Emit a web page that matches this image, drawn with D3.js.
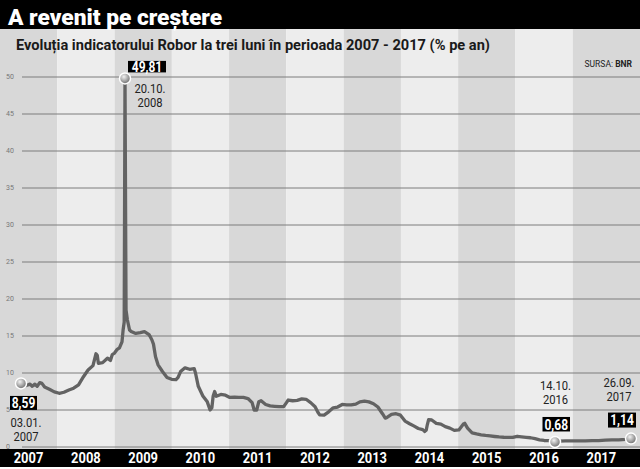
<!DOCTYPE html>
<html>
<head>
<meta charset="utf-8">
<script src="https://cdn.jsdelivr.net/npm/d3@7"></script>
<style>
  body { margin: 0; background: #fff; }
  svg { display: block; font-family: Roboto, "Open Sans", "DejaVu Sans", sans-serif; }
</style>
</head>
<body>
<div id="chart"></div>
<script>
const width = 640;
const height = 469;

const years = [2007, 2008, 2009, 2010, 2011, 2012, 2013, 2014, 2015, 2016, 2017];
const yTicks = [0, 5, 10, 15, 20, 25, 30, 35, 40, 45, 50];

const robor = [
  ["2007-01-03", 8.59], ["2007-02-01", 8.3], ["2007-03-01", 8.5], ["2007-03-15", 8.2],
  ["2007-04-01", 8.5], ["2007-04-15", 8.2], ["2007-05-01", 8.7], ["2007-05-15", 8.6],
  ["2007-06-01", 8.1], ["2007-07-01", 7.8], ["2007-08-01", 7.45], ["2007-09-01", 7.26],
  ["2007-10-01", 7.4], ["2007-11-01", 7.7], ["2007-12-01", 7.95],
  ["2008-01-01", 8.4], ["2008-02-01", 9.5], ["2008-03-01", 10.4], ["2008-04-01", 11.0],
  ["2008-04-20", 12.6], ["2008-04-28", 12.4], ["2008-05-05", 11.3], ["2008-06-01", 11.4],
  ["2008-07-01", 12.0], ["2008-07-20", 11.7], ["2008-08-01", 12.5], ["2008-08-15", 12.7],
  ["2008-09-01", 13.2], ["2008-09-15", 13.4], ["2008-10-01", 14.2], ["2008-10-08", 15.8],
  ["2008-10-15", 16.9], ["2008-10-20", 49.81], ["2008-10-27", 18.5], ["2008-11-05", 17.2],
  ["2008-11-20", 15.8], ["2008-12-01", 15.6],
  ["2009-01-01", 15.35], ["2009-02-01", 15.45], ["2009-03-01", 15.6], ["2009-04-01", 15.2],
  ["2009-04-20", 14.5], ["2009-05-01", 13.9], ["2009-05-15", 12.2], ["2009-06-01", 11.1],
  ["2009-07-01", 10.2], ["2009-08-01", 9.4], ["2009-09-01", 9.15], ["2009-10-01", 9.1],
  ["2009-10-15", 9.4], ["2009-11-01", 10.2], ["2009-12-01", 10.7],
  ["2010-01-01", 10.5], ["2010-02-01", 10.6], ["2010-02-10", 10.0], ["2010-03-01", 8.2],
  ["2010-04-01", 6.9], ["2010-05-01", 6.1], ["2010-05-20", 5.0], ["2010-06-01", 5.3],
  ["2010-06-10", 6.9], ["2010-06-20", 7.5], ["2010-07-01", 6.85], ["2010-08-01", 7.1],
  ["2010-09-01", 7.0], ["2010-10-01", 6.7], ["2010-11-01", 6.75], ["2010-12-01", 6.7],
  ["2011-01-01", 6.7], ["2011-02-01", 6.55], ["2011-03-01", 6.0], ["2011-03-15", 5.0],
  ["2011-04-01", 5.0], ["2011-04-15", 6.1], ["2011-05-01", 6.25], ["2011-06-01", 5.75],
  ["2011-07-01", 5.55], ["2011-08-01", 5.5], ["2011-09-01", 5.45], ["2011-10-01", 5.45],
  ["2011-10-20", 6.0], ["2011-11-01", 6.35], ["2011-12-01", 6.25],
  ["2012-01-01", 6.3], ["2012-02-01", 6.5], ["2012-03-01", 6.45], ["2012-04-01", 6.0],
  ["2012-05-01", 5.45], ["2012-05-20", 4.7], ["2012-06-01", 4.35], ["2012-07-01", 4.3],
  ["2012-08-01", 4.75], ["2012-09-01", 5.3], ["2012-10-01", 5.4], ["2012-11-01", 5.75],
  ["2012-12-01", 5.7],
  ["2013-01-01", 5.68], ["2013-02-01", 5.8], ["2013-03-01", 6.1], ["2013-04-01", 6.2],
  ["2013-05-01", 6.1], ["2013-06-01", 5.85], ["2013-07-01", 5.4], ["2013-08-01", 4.5],
  ["2013-08-20", 3.9], ["2013-09-01", 4.0], ["2013-10-01", 4.4], ["2013-11-01", 4.5],
  ["2013-12-01", 4.3],
  ["2014-01-01", 3.5], ["2014-02-01", 3.15], ["2014-03-01", 2.85], ["2014-04-01", 2.5],
  ["2014-05-01", 2.35], ["2014-05-15", 2.1], ["2014-05-25", 2.3], ["2014-06-01", 3.0],
  ["2014-06-10", 3.7], ["2014-07-01", 3.65], ["2014-08-01", 3.2], ["2014-09-01", 3.1],
  ["2014-10-01", 2.75], ["2014-11-01", 2.55], ["2014-12-01", 2.25],
  ["2015-01-01", 2.3], ["2015-02-01", 3.1], ["2015-02-10", 3.2], ["2015-03-01", 2.55],
  ["2015-04-01", 1.9], ["2015-05-01", 1.76], ["2015-06-01", 1.65], ["2015-07-01", 1.56],
  ["2015-08-01", 1.49], ["2015-09-01", 1.42], ["2015-10-01", 1.36], ["2015-11-01", 1.32],
  ["2015-12-01", 1.31],
  ["2016-01-01", 1.31], ["2016-02-01", 1.45], ["2016-03-01", 1.38], ["2016-04-01", 1.31],
  ["2016-05-01", 1.25], ["2016-06-01", 1.12], ["2016-07-01", 0.97], ["2016-08-01", 0.88],
  ["2016-09-01", 0.85], ["2016-10-01", 0.8], ["2016-10-14", 0.68], ["2016-11-01", 0.8],
  ["2016-12-01", 0.82],
  ["2017-01-01", 0.82], ["2017-02-01", 0.82], ["2017-03-01", 0.84], ["2017-04-01", 0.85],
  ["2017-05-01", 0.86], ["2017-06-01", 0.92], ["2017-07-01", 0.95], ["2017-08-01", 0.96],
  ["2017-09-01", 1.03], ["2017-09-26", 1.14]
];

const callouts = [
  { date: "2007-01-03", value: 8.59, text: "8,59", day: "03.01.", year: "2007" },
  { date: "2008-10-20", value: 49.81, text: "49,81", day: "20.10.", year: "2008" },
  { date: "2016-10-14", value: 0.68, text: "0,68", day: "14.10.", year: "2016" },
  { date: "2017-09-26", value: 1.14, text: "1,14", day: "26.09.", year: "2017" }
];

const parse = d3.timeParse("%Y-%m-%d");
const series = robor.map(([d, v]) => ({ date: parse(d), value: v }));

const svg = d3.select("#chart")
  .append("svg")
  .attr("width", width)
  .attr("height", height)
  .attr("viewBox", [0, 0, width, height]);

// squeeze text horizontally to mimic the condensed newspaper face
function squeeze(sel, k) {
  sel.each(function () {
    const w = this.getComputedTextLength();
    d3.select(this).attr("textLength", w * k).attr("lengthAdjust", "spacingAndGlyphs");
  });
}

const plotTop = 29;
const barTop = 449;

// year bands and labels
const xYear = d3.scaleTime()
  .domain([new Date(2007, 0, 1), new Date(2018, 0, 1)])
  .range([0, 630]);

// the line is pinned to the dated callouts
const x = d3.scaleTime()
  .domain(callouts.map(c => parse(c.date)))
  .range([21, 125, 555, 631]);

const y = d3.scaleLinear().domain([0, 50]).range([447, 77]);

svg.append("g")
  .selectAll("rect")
  .data(years)
  .join("rect")
  .attr("x", d => xYear(new Date(d, 0, 1)))
  .attr("y", plotTop)
  .attr("width", (d, i) => (i === years.length - 1 ? width : xYear(new Date(d + 1, 0, 1))) - xYear(new Date(d, 0, 1)))
  .attr("height", barTop - plotTop)
  .attr("fill", (d, i) => i % 2 === 0 ? "#d8d8d8" : "#ededed");

// grid
svg.append("g")
  .selectAll("line")
  .data(yTicks)
  .join("line")
  .attr("x1", 22)
  .attr("x2", width)
  .attr("y1", d => y(d))
  .attr("y2", d => y(d))
  .attr("stroke", "#7d7d7d")
  .attr("stroke-width", 1);

svg.append("g")
  .selectAll("text")
  .data(yTicks)
  .join("text")
  .attr("x", 6)
  .attr("y", d => y(d))
  .attr("dy", "0.35em")
  .attr("font-size", 7)
  .attr("fill", "#777")
  .text(d => d);

// header
svg.append("rect").attr("x", 0).attr("y", 0).attr("width", width).attr("height", plotTop).attr("fill", "#000");
svg.append("text")
  .attr("x", 8).attr("y", 25)
  .attr("font-size", 22).attr("font-weight", 900)
  .attr("fill", "#fff")
  .attr("textLength", 214).attr("lengthAdjust", "spacingAndGlyphs")
  .text("A revenit pe creștere");

svg.append("text")
  .attr("x", 16).attr("y", 50)
  .attr("font-size", 14.5).attr("font-weight", 700)
  .attr("fill", "#1a1a1a")
  .attr("textLength", 474).attr("lengthAdjust", "spacingAndGlyphs")
  .text("Evoluția indicatorului Robor la trei luni în perioada 2007 - 2017 (% pe an)");

const src = svg.append("text")
  .attr("x", 632).attr("y", 67)
  .attr("text-anchor", "end")
  .attr("font-size", 8.5)
  .attr("fill", "#222");
src.append("tspan").text("SURSA: ");
src.append("tspan").attr("font-weight", 700).text("BNR");

// series
const line = d3.line()
  .x(d => x(d.date))
  .y(d => y(d.value));

svg.append("path")
  .datum(series)
  .attr("d", line)
  .attr("fill", "none")
  .attr("stroke", "#636363")
  .attr("stroke-width", 3.3)
  .attr("stroke-linejoin", "round");

// dots
const grad = svg.append("defs").append("radialGradient")
  .attr("id", "dot").attr("cx", "40%").attr("cy", "35%").attr("r", "65%");
grad.append("stop").attr("offset", "0%").attr("stop-color", "#f2f2f2");
grad.append("stop").attr("offset", "100%").attr("stop-color", "#6e6e6e");

// box [dx, dy, w, h] and date [dx, dy] relative to the dot
const calloutLayout = [
  { box: [-11, 12.5, 27, 14], date: [5, 43.5] },
  { box: [3, -17.5, 38, 11.5], date: [25, 14.5] },
  { box: [-12.5, -25, 27.5, 14.5], date: [0.5, -52] },
  { box: [-23, -26, 28, 15], date: [-12, -52] }
];

const co = svg.append("g")
  .selectAll("g")
  .data(callouts)
  .join("g")
  .attr("transform", d => `translate(${x(parse(d.date))},${y(d.value)})`);

co.append("circle")
  .attr("r", 5.5)
  .attr("fill", "url(#dot)")
  .attr("stroke", "#fff")
  .attr("stroke-width", 1.5);

co.append("rect")
  .attr("x", (d, i) => calloutLayout[i].box[0])
  .attr("y", (d, i) => calloutLayout[i].box[1])
  .attr("width", (d, i) => calloutLayout[i].box[2])
  .attr("height", (d, i) => calloutLayout[i].box[3])
  .attr("fill", "#000");

co.append("text")
  .attr("x", (d, i) => calloutLayout[i].box[0] + calloutLayout[i].box[2] / 2)
  .attr("y", (d, i) => calloutLayout[i].box[1] + calloutLayout[i].box[3] / 2)
  .attr("dy", "0.36em")
  .attr("text-anchor", "middle")
  .attr("font-size", 15)
  .attr("font-weight", 700)
  .attr("fill", "#fff")
  .text(d => d.text)
  .call(squeeze, 0.8);

co.append("text")
  .attr("x", (d, i) => calloutLayout[i].date[0])
  .attr("y", (d, i) => calloutLayout[i].date[1])
  .attr("text-anchor", "middle")
  .attr("font-size", 13)
  .attr("fill", "#222")
  .text(d => d.day)
  .call(squeeze, 0.86);

co.append("text")
  .attr("x", (d, i) => calloutLayout[i].date[0])
  .attr("y", (d, i) => calloutLayout[i].date[1] + 14)
  .attr("text-anchor", "middle")
  .attr("font-size", 13)
  .attr("fill", "#222")
  .text(d => d.year)
  .call(squeeze, 0.86);

// bottom axis bar
svg.append("rect").attr("x", 0).attr("y", barTop).attr("width", width).attr("height", 18).attr("fill", "#000");
svg.append("g")
  .selectAll("text")
  .data(years)
  .join("text")
  .attr("x", d => xYear(new Date(d, 6, 2)))
  .attr("y", 462.5)
  .attr("text-anchor", "middle")
  .attr("font-size", 15)
  .attr("font-weight", 700)
  .attr("fill", "#fff")
  .text(d => d)
  .call(squeeze, 0.86);
</script>
</body>
</html>
